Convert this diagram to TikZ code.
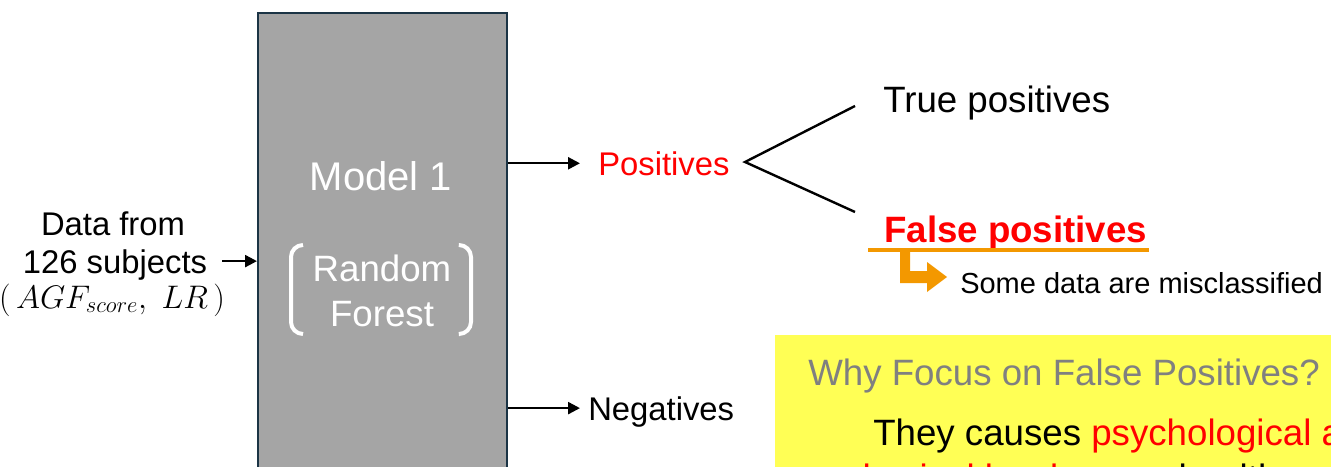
\documentclass[tikz,border=0pt]{standalone}
\usepackage{fontspec}
\setmainfont{Liberation Sans}
\usepackage{graphicx}
\usetikzlibrary{arrows.meta}
\definecolor{boxgray}{HTML}{A5A5A5}
\definecolor{boxedge}{HTML}{1B3445}
\definecolor{orng}{HTML}{F39800}
\definecolor{ylw}{HTML}{FFFF55}
\definecolor{txtgray}{HTML}{808080}
\begin{document}
\begin{tikzpicture}[x=0.75pt,y=-0.75pt,
  lbl/.style={inner sep=0pt, anchor=base},
  lblw/.style={inner sep=0pt, anchor=base west},
  arr/.style={-{Triangle[length=9pt,width=9pt]}, line width=1.8pt},
  brk/.style={white, line width=3pt, rounded corners=9pt},
  fA/.style={font=\fontsize{30}{36}\selectfont},
  fB/.style={font=\fontsize{27.5}{33}\selectfont},
  fC/.style={font=\fontsize{24.6}{30}\selectfont},
  fD/.style={font=\fontsize{21.75}{26}\selectfont}]
\useasboundingbox (0,0) rectangle (1331,467);
\clip (0,0) rectangle (1331,467);
\fill[white] (0,0) rectangle (1331,467);

% model box
\node[draw=boxedge, line width=1.5pt, fill=boxgray, minimum width=186.75pt,
      minimum height=352pt, inner sep=0pt, anchor=north west] (model) at (257,12) {};
\node[lbl, white, fA] (m1) at (381,190) {Model 1};
\node[lbl, white, fB] (rnd) at (382,281) {Random};
\node[lbl, white, fB] (frs) at (382,326) {Forest};
\draw[brk] (303,245) -- (291,245) -- (291,334) -- (303,334);
\draw[brk] (460,245) -- (471,245) -- (471,334) -- (460,334);

% input
\node[lbl, fC] (data) at (113,235) {Data from};
\node[lbl, fC, text depth=0pt] (subj) at (115,273) {126 subjects};
\node[lbl, font=\fontsize{20.74}{25}\selectfont] (feat) at (112,308) {\scalebox{1.18}{$(\,AGF_{score},\;LR\,)$}};
\draw[arr, shorten <=11pt] (subj.east) -- (subj.east -| model.west);

% outputs
\node[lblw, red, fC] (pos) at (598,175) {Positives};
\draw[arr, shorten >=13.5pt] (pos.west -| model.east) -- (pos.west);
\node[lblw, fC, text depth=0pt] (neg) at (588,420) {Negatives};
\draw[arr, shorten >=6pt] (neg.west -| model.east) -- (neg.west);

% branch
\coordinate (v) at (745,162);
\coordinate (tpe) at (855,106);
\coordinate (fpe) at (855,212);
\draw[line width=1.8pt] (tpe) -- (v) -- (fpe);
\node[lblw, fB] (tpos) at (883,113) {True positives};
\node[lblw, red, fB] (fpos) at (884,242) {\bfseries False positives};
\draw[orng, line width=2.5pt] (868,250) -- (1149,250);
\fill[orng] (900,251) -- (910,251) -- (910,271) -- (927,271) -- (927,262) -- (947,277)
  -- (927,292) -- (927,283) -- (900,283) -- cycle;
\node[lblw, fD] (mis) at (960,293) {Some data are misclassified};

% yellow box
\node[fill=ylw, inner sep=0pt, minimum width=424pt, minimum height=110pt, anchor=north west] (why) at (775,335) {};
\node[lblw, txtgray, fB] (whyt) at (808,385) {Why Focus on False Positives?};
\node[lblw, fB] (cause) at (873,445) {They causes \textcolor{red}{psychological and}};
\node[lblw, fB] (cause2) at (842,490) {\textcolor{red}{physical burdens} on healthy people};
\end{tikzpicture}
\end{document}
